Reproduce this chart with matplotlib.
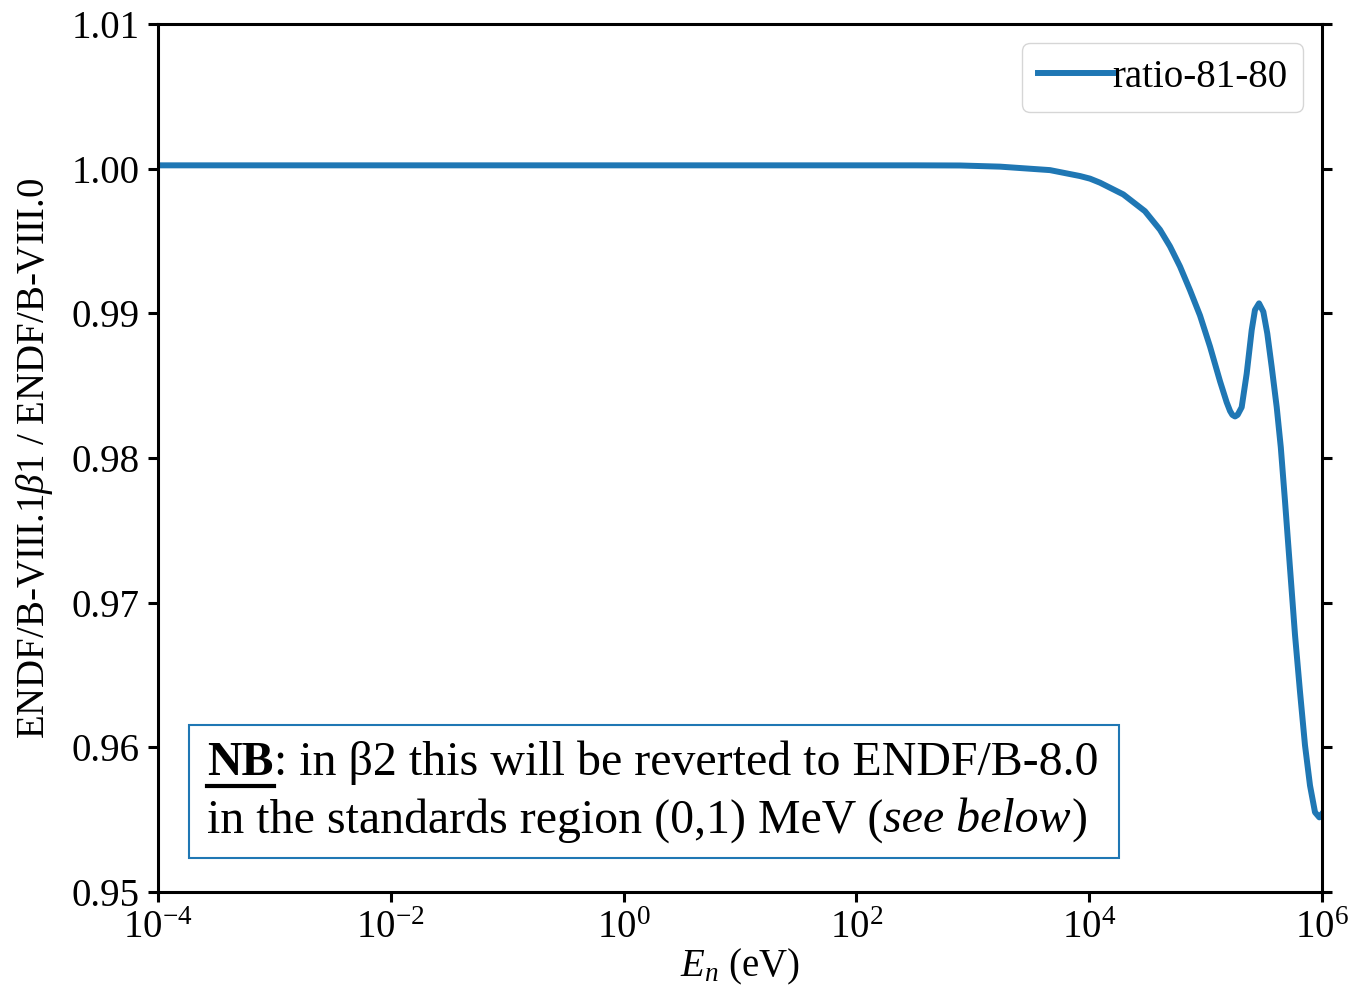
import numpy as np
import matplotlib
matplotlib.use("Agg")
import matplotlib.pyplot as plt
from matplotlib.offsetbox import (TextArea, HPacker, VPacker, DrawingArea,
                                  AnchoredOffsetbox)
from matplotlib.lines import Line2D
from matplotlib.ticker import FixedLocator, NullLocator, FormatStrFormatter

# ratio of ENDF/B-VIII.1b1 to ENDF/B-VIII.0 vs neutron energy (log10 eV)
log_energy = [-4.0, -2.0, 0.0, 2.0, 2.5, 2.89, 3.234, 3.663, 3.921, 4.007,
              4.093, 4.293, 4.479, 4.608, 4.694, 4.780, 4.866, 4.952, 5.038,
              5.124, 5.181, 5.210, 5.230, 5.253, 5.275, 5.310, 5.353, 5.396,
              5.424, 5.459, 5.496, 5.530, 5.568, 5.611, 5.646, 5.682, 5.725,
              5.768, 5.811, 5.854, 5.897, 5.940, 5.977, 6.0]
ratio = [1.00023, 1.00023, 1.00023, 1.00023, 1.00023, 1.00022, 1.00014,
         0.99990, 0.99949, 0.99931, 0.99903, 0.99822, 0.99706, 0.99578,
         0.99463, 0.99324, 0.99160, 0.98985, 0.98770, 0.98530, 0.98385,
         0.98325, 0.98298, 0.98287, 0.98298, 0.98351, 0.98583, 0.98884,
         0.99023, 0.99069, 0.99011, 0.98861, 0.98629, 0.98351, 0.98074,
         0.97703, 0.97240, 0.96778, 0.96384, 0.96014, 0.95736, 0.95551,
         0.95516, 0.95540]

x_ticks = [1e-4, 1e-2, 1e0, 1e2, 1e4, 1e6]
y_ticks = [0.95, 0.96, 0.97, 0.98, 0.99, 1.00, 1.01]

plt.rcParams['font.family'] = 'Liberation Serif'
plt.rcParams['mathtext.fontset'] = 'custom'
plt.rcParams['mathtext.rm'] = 'Liberation Serif'
plt.rcParams['mathtext.it'] = 'Liberation Serif:italic'
plt.rcParams['mathtext.bf'] = 'Liberation Serif:bold'

energy = 10.0 ** np.array(log_energy)

fig = plt.figure(figsize=(13.54, 9.96), dpi=100)
ax = fig.add_axes([158 / 1354, 1 - 892 / 996, 1164 / 1354, 868 / 996])

ax.plot(energy, ratio, color='#1f77b4', lw=4.3, label='ratio-81-80',
        solid_joinstyle='round')

ax.set_xscale('log')
ax.set_xlim(1e-4, 1e6)
ax.set_ylim(0.95, 1.01)
ax.xaxis.set_major_locator(FixedLocator(x_ticks))
ax.xaxis.set_minor_locator(NullLocator())
ax.yaxis.set_major_locator(FixedLocator(y_ticks))
ax.yaxis.set_major_formatter(FormatStrFormatter('%.2f'))

for s in ax.spines.values():
    s.set_linewidth(2.2)
ax.tick_params(which='major', direction='out', length=7, width=2.2,
               labelsize=28, right=True, pad=6)

ax.set_xlabel(r'$E_n$ (eV)', fontsize=28, labelpad=0)
ax.set_ylabel(r'ENDF/B-VIII.1$\beta$1 / ENDF/B-VIII.0', fontsize=28, labelpad=12)

ax.legend(loc='upper right', fontsize=28, handletextpad=-0.1,
          borderaxespad=0.5, handlelength=2.0)

# note box: two lines, bold underlined "NB" and italic "see below"
fs = 34.5
nb = TextArea('NB', textprops=dict(fontsize=fs, fontweight='bold'))
line1 = HPacker(children=[nb,
                          TextArea(': in β2 this will be reverted to ENDF/B-8.0',
                                   textprops=dict(fontsize=fs))],
                align='baseline', pad=0, sep=0)
line2 = HPacker(children=[TextArea('in the standards region (0,1) MeV (',
                                   textprops=dict(fontsize=fs)),
                          TextArea('see below',
                                   textprops=dict(fontsize=fs, fontstyle='italic')),
                          TextArea(')', textprops=dict(fontsize=fs))],
                align='baseline', pad=0, sep=0)
lines = VPacker(children=[line1, line2], align='left', pad=0, sep=9)
note = HPacker(children=[DrawingArea(2, 0), lines, DrawingArea(4, 0)],
               align='center', pad=0, sep=0)
box = AnchoredOffsetbox(loc='lower left', child=note, pad=0.32, borderpad=0,
                        prop=dict(size=fs), frameon=True,
                        bbox_to_anchor=(31 / 1164, 34 / 868),
                        bbox_transform=ax.transAxes)
box.patch.set_edgecolor('#1f77b4')
box.patch.set_linewidth(1.5)
box.patch.set_boxstyle('square', pad=0)
ax.add_artist(box)

# underline under "NB"
fig.canvas.draw()
bb = nb._text.get_window_extent().transformed(fig.transFigure.inverted())
y_ul = bb.y0 + 0.25 * (bb.y1 - bb.y0) - 0.012
fig.add_artist(Line2D([bb.x0, bb.x1], [y_ul, y_ul], transform=fig.transFigure,
                      color='black', lw=3))

fig.savefig('out.png', dpi=100)
